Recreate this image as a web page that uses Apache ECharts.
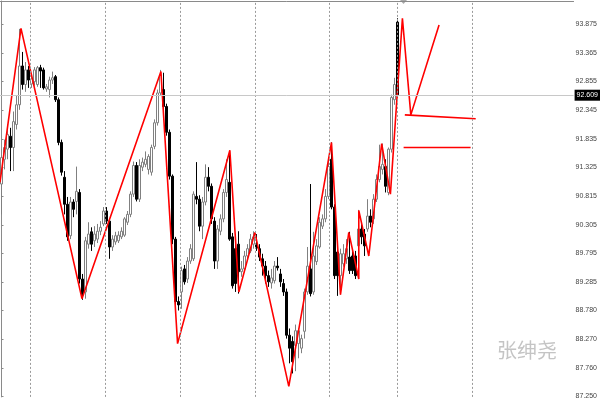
<!DOCTYPE html>
<html>
<head>
<meta charset="utf-8">
<script src="https://cdn.jsdelivr.net/npm/echarts@6/dist/echarts.min.js"></script>
<style>html,body{margin:0;padding:0;background:#fff}#c{width:600px;height:400px}</style>
</head>
<body>
<div id="c"></div>
<script>
// ---- data ----
const opens = [91.03,91.47,91.65,91.88,91.68,92.09,92.44,93.13,92.80,93.06,92.81,92.85,92.80,93.10,93.06,92.72,92.71,92.88,92.94,92.53,
91.77,91.15,90.67,90.11,90.71,90.72,90.88,89.34,89.11,89.96,90.18,90.02,90.05,90.19,90.32,90.55,90.37,89.91,90.00,90.02,
90.09,90.12,90.35,90.49,90.85,91.36,90.76,91.33,91.38,91.29,91.24,91.70,92.12,92.65,92.71,92.41,91.95,91.17,90.05,88.94,
89.11,89.52,89.34,89.66,89.70,90.81,90.76,90.28,90.71,91.15,90.99,90.37,89.66,90.19,90.41,90.88,91.06,90.09,89.88,89.96,
89.47,89.52,89.75,89.84,89.96,89.96,89.88,89.70,89.57,89.40,89.27,89.31,89.57,89.43,89.26,89.11,88.34,88.23,88.16,88.19,
88.11,88.41,89.11,89.52,89.11,89.65,89.91,90.28,90.41,90.81,91.47,90.62,89.82,89.40,89.61,89.70,89.73,89.75,89.75,89.93,
90.23,90.14,90.23,90.46,90.41,90.76,91.11,91.29,91.34,90.88,91.65,92.53,93.91];
const closes = [91.50,91.68,91.91,91.68,92.14,92.44,93.13,92.80,93.06,92.88,92.90,93.06,93.10,93.04,92.74,92.76,92.88,92.92,92.53,91.77,
91.24,90.67,90.09,90.71,90.58,90.90,89.34,89.06,90.02,90.14,89.96,90.14,90.19,90.26,90.55,90.37,89.91,90.05,90.11,90.12,
90.19,90.41,90.49,90.85,91.36,90.76,91.36,91.42,91.47,91.52,91.68,92.12,92.65,92.97,92.41,91.95,91.17,90.05,88.94,88.88,
89.49,89.29,89.66,89.88,90.85,90.76,90.28,90.71,91.15,90.99,90.41,89.66,90.23,90.41,90.88,91.11,90.05,89.22,89.26,89.47,
89.52,89.75,89.88,90.05,90.09,89.89,89.73,89.57,89.40,89.29,89.36,89.57,89.54,89.29,89.11,88.34,88.11,87.87,88.42,88.42,
88.28,89.11,89.57,89.08,89.75,89.93,90.35,90.41,90.81,91.34,90.62,89.40,89.40,89.79,89.79,89.88,89.49,89.49,89.40,90.23,
90.09,89.93,90.46,90.35,90.76,91.11,91.34,91.38,90.99,91.65,92.57,92.80,92.62];
const lows = [90.49,91.29,91.47,91.26,91.26,92.00,92.35,92.71,92.67,92.74,92.74,92.78,92.76,92.74,92.71,92.67,92.57,92.81,92.49,91.72,
91.18,90.49,90.02,90.05,90.44,90.49,89.26,88.97,88.99,89.88,89.84,89.91,89.98,90.12,90.28,90.32,89.70,89.84,89.95,89.98,
90.05,90.09,90.30,90.44,90.80,90.72,90.71,91.26,91.33,91.20,91.18,91.65,92.07,92.60,92.35,91.89,91.11,89.96,88.81,88.78,
88.81,89.24,89.27,89.61,89.66,90.67,90.19,90.05,90.65,90.90,90.32,89.52,89.52,90.12,90.35,90.80,90.02,89.17,89.11,89.08,
89.38,89.49,89.66,89.80,89.88,89.84,89.66,89.40,89.26,89.20,89.17,89.26,89.49,89.20,89.04,88.28,87.84,87.66,87.70,87.93,
88.02,88.28,89.06,89.03,89.06,89.59,89.88,90.23,90.35,90.76,90.58,89.34,89.04,89.06,89.56,89.61,89.43,89.43,89.34,89.84,
89.96,89.75,90.18,90.26,90.32,90.71,91.06,91.20,90.88,90.83,91.59,92.44,92.57];
const highs = [91.65,91.82,92.09,92.03,92.32,92.60,93.79,93.38,93.20,93.13,92.97,93.11,93.13,93.15,93.10,92.81,92.94,93.03,92.97,92.57,
91.82,91.26,90.80,90.80,90.76,91.34,90.94,89.43,90.09,90.35,90.26,90.28,90.32,90.37,90.62,90.62,90.41,90.12,90.18,90.19,
90.26,90.44,90.55,90.90,91.43,91.42,91.47,91.50,91.61,91.56,91.73,92.18,92.71,93.06,93.01,92.46,92.00,91.20,90.09,89.03,
89.56,89.59,89.73,89.96,90.90,91.42,90.83,90.80,91.38,91.33,91.04,90.44,90.30,90.49,90.94,91.47,91.61,90.16,89.96,90.19,
89.66,89.84,89.96,90.14,90.19,90.14,89.96,89.79,89.66,89.49,89.52,89.66,89.73,89.52,89.34,89.17,88.46,88.32,88.53,88.46,
88.35,89.17,89.91,91.03,90.18,90.05,90.44,90.49,90.94,91.47,91.77,90.67,89.88,89.88,89.96,90.05,90.18,89.88,89.84,90.57,
90.32,90.23,90.76,90.58,90.85,91.20,91.73,91.75,91.47,91.68,92.62,92.92,93.98];

// zigzag indicator (x in bar units, y in price)
const zigX = [-0.5,6.49,26.79,53.08,58.63,76.04,79.03,84.36,95.67,109.88,112.88,115.64,118.97,118.97,122.3,126.6,129.5,133.5,136.3,145.7];
const zigY = [91.06,93.80,88.99,93.03,88.19,91.63,89.11,90.17,87.43,91.77,89.06,90.17,89.34,90.56,89.75,91.75,90.85,93.98,92.26,93.86];
const level1X = [134.3,157.9], level1Y = [92.26,92.19];
const level2X = [133.9,156.2], level2Y = [91.68,91.68];

const yTicks = [93.875,93.365,92.855,92.345,91.835,91.325,90.815,90.305,89.795,89.285,88.780,88.270,87.760,87.250];
const bidPrice = 92.609;
const gridLinesX = [9.65,34.6,59.57,84.36,109.15,131.78,156.74];
const slotCount = 191;
const watermark = '张绅尧';

// ---- build ----
const categories = [];
for (let i = 0; i < slotCount; i++) categories.push(String(i));
const candles = opens.map((o, i) => [o, closes[i], lows[i], highs[i]]);
const zig = zigX.map((x, i) => [x, zigY[i]]);
const l1 = level1X.map((x, i) => [x, level1Y[i]]);
const l2 = level2X.map((x, i) => [x, level2Y[i]]);

const chart = echarts.init(document.getElementById('c'));
const font = '"Liberation Sans",Arial,sans-serif';
chart.setOption({
  animation: false,
  backgroundColor: '#ffffff',
  grid: { left: 0, right: 26, top: 1, bottom: 0 },
  xAxis: [
    { type: 'category', data: categories, show: false, boundaryGap: true },
    { type: 'value', min: -0.5, max: slotCount - 0.5, position: 'top',
      axisLine: { show: true, lineStyle: { color: '#8a8a8a', width: 1 } },
      axisTick: { show: false }, axisLabel: { show: false }, splitLine: { show: false } }
  ],
  yAxis: {
    type: 'value', position: 'right', min: 87.243, max: 94.286,
    axisLine: { show: true, lineStyle: { color: '#8a8a8a', width: 1 } },
    axisTick: { show: true, length: 2, customValues: yTicks, lineStyle: { color: '#8a8a8a' } },
    axisLabel: { customValues: yTicks, margin: 2, fontSize: 7, color: '#444', fontFamily: font,
      formatter: v => Number(v).toFixed(3) },
    splitLine: { show: false }
  },
  graphic: [
    { type: 'text', left: 497, top: 340, silent: true,
      style: { text: watermark, font: '20px "Noto Sans CJK SC"', fill: '#c4c4c4' } },
    { type: 'polygon', silent: true, shape: { points: [[400, 0], [407, 0], [403.5, 4]] }, style: { fill: '#aaaaaa' } }
  ],
  series: [
    {
      type: 'candlestick', xAxisIndex: 0, yAxisIndex: 0, data: candles, barWidth: 2.4,
      itemStyle: { color: '#ffffff', color0: '#000000', borderColor: '#808080', borderColor0: '#000000', borderWidth: 1 },
      z: 3
    },
    {
      type: 'line', xAxisIndex: 1, data: zig, showSymbol: false, symbol: 'none',
      lineStyle: { color: '#ff0000', width: 1.6 }, z: 4, silent: true,
      markLine: {
        silent: true, symbol: 'none', animation: false,
        label: { show: false },
        lineStyle: { color: '#9a9a9a', type: [2, 2], width: 1 },
        data: gridLinesX.map(x => ({ xAxis: x }))
      }
    },
    { type: 'line', xAxisIndex: 1, data: l1, showSymbol: false, symbol: 'none', lineStyle: { color: '#ff0000', width: 1.6 }, z: 4, silent: true },
    { type: 'line', xAxisIndex: 1, data: l2, showSymbol: false, symbol: 'none', lineStyle: { color: '#ff0000', width: 1.6 }, z: 4, silent: true,
      markLine: {
        silent: true, symbol: 'none', animation: false,
        lineStyle: { color: '#c8c8c8', type: 'solid', width: 1 },
        label: { show: true, position: 'end', distance: 1, formatter: () => bidPrice.toFixed(3),
          backgroundColor: '#000', color: '#fff', fontSize: 7, fontFamily: font, padding: [2, 2, 2, 2] },
        data: [{ yAxis: bidPrice }]
      }
    }
  ]
});
</script>
</body>
</html>
